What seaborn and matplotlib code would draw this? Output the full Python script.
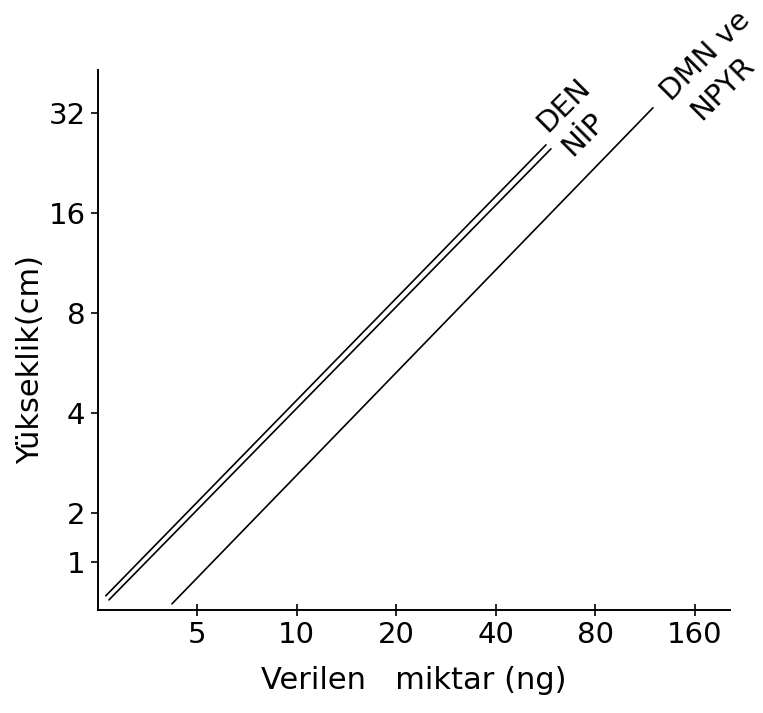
import numpy as np
import pandas as pd
import matplotlib
matplotlib.use("Agg")
import matplotlib.pyplot as plt
import seaborn as sns

# values (log2 scales on both axes)
series = ["DEN", "NİP", "DMN ve NPYR"]
x_start = [2.65, 2.71, 4.2]
x_end = [56.7, 58.7, 119.4]
y_start = [1.125, 1.094, 1.064]
y_end = [25.6, 24.9, 33.1]

x_ticks = [5, 10, 20, 40, 80, 160]
y_ticks = [1.42, 2, 4, 8, 16, 32]   # the "1" tick sits off the doubling grid in the original
y_tick_labels = ["1", "2", "4", "8", "16", "32"]

sns.set_style("ticks")
plt.rcParams["font.family"] = ["DejaVu Sans"]
for key in ["text.color", "axes.labelcolor", "xtick.color", "ytick.color", "axes.edgecolor"]:
    plt.rcParams[key] = "black"

rows = []
for name, xs, xe, ys, ye in zip(series, x_start, x_end, y_start, y_end):
    rows.append({"series": name, "x": xs, "y": ys})
    rows.append({"series": name, "x": xe, "y": ye})
df = pd.DataFrame(rows)

fig = plt.figure(figsize=(7.63, 7.13), dpi=100)
ax = fig.add_axes([0.1284, 0.1445, 0.8283, 0.7573])

sns.lineplot(data=df, x="x", y="y", units="series", estimator=None,
             color="black", linewidth=1.2, ax=ax, legend=False)

ax.set_xscale("log", base=2)
ax.set_yscale("log", base=2)
ax.set_xlim(2.51, 204)
ax.set_ylim(1.02, 43)

ax.set_xticks(x_ticks)
ax.set_xticklabels([str(t) for t in x_ticks])
ax.set_yticks(y_ticks)
ax.set_yticklabels(y_tick_labels)
ax.minorticks_off()

ax.tick_params(axis="x", direction="inout", length=8, width=1.2, labelsize=21, pad=4)
ax.tick_params(axis="y", direction="out", length=5, width=1.2, labelsize=21, pad=4)

for side in ["top", "right"]:
    ax.spines[side].set_visible(False)
for side in ["left", "bottom"]:
    ax.spines[side].set_linewidth(1.4)

ax.set_xlabel("Verilen   miktar (ng)", fontsize=22, labelpad=12)
ax.set_ylabel("Yükseklik(cm)", fontsize=22)
ax.yaxis.set_label_coords(-0.084, 0.463)

# line labels, rotated along the lines
labels = [("DEN", 63.9, 33.8), ("NİP", 73.4, 27.5), ("DMN ve", 172.6, 47.2), ("NPYR", 194.5, 37.8)]
for txt, lx, ly in labels:
    ax.text(lx, ly, txt, rotation=45, rotation_mode="anchor", ha="center", va="center",
            fontsize=21, clip_on=False)

fig.savefig("out.png", dpi=100)
